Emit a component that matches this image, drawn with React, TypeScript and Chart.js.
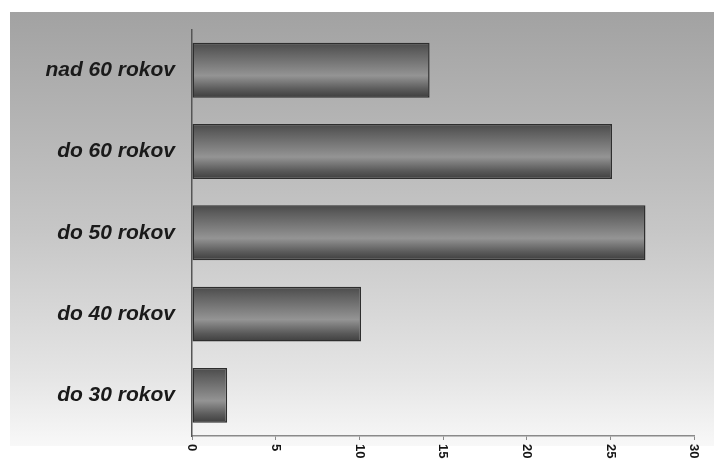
import React, { useEffect, useRef } from "react";
import { Chart, registerables } from "chart.js";

Chart.register(...registerables);

const categories = ["nad 60 rokov", "do 60 rokov", "do 50 rokov", "do 40 rokov", "do 30 rokov"];
const values = [14.2, 25.1, 27.1, 10.1, 2.1];
const xTicks = [0, 5, 10, 15, 20, 25, 30];

const BAR_PCT = 0.675;

const bgPlugin = {
  id: "bgPlugin",
  beforeDraw(chart: any) {
    const { ctx } = chart;
    ctx.save();
    ctx.fillStyle = "#ffffff";
    ctx.fillRect(0, 0, chart.width, chart.height);
    const g = ctx.createLinearGradient(0, 12, 0, 446);
    g.addColorStop(0, "#a2a2a2");
    g.addColorStop(0.5, "#c6c6c6");
    g.addColorStop(0.85, "#e6e6e6");
    g.addColorStop(1, "#f8f8f8");
    ctx.fillStyle = g;
    ctx.fillRect(10, 12, 704, 434);
    ctx.restore();
  },
  afterDraw(chart: any) {
    const { ctx } = chart;
    const sx = chart.scales.x;
    ctx.save();
    ctx.fillStyle = "#141414";
    ctx.font = "bold 13px 'Liberation Sans', Arial, sans-serif";
    ctx.textAlign = "left";
    ctx.textBaseline = "middle";
    xTicks.forEach((v) => {
      const x = sx.getPixelForValue(v);
      ctx.save();
      ctx.translate(x, 444);
      ctx.rotate(Math.PI / 2);
      ctx.fillText(String(v), 0, 0);
      ctx.restore();
    });
    ctx.restore();
  },
};

export default function App() {
  const ref = useRef<HTMLCanvasElement | null>(null);
  useEffect(() => {
    document.body.style.margin = "0";
    const canvas = ref.current!;
    const chart = new Chart(canvas, {
      type: "bar",
      data: {
        labels: categories,
        datasets: [
          {
            data: values,
            borderColor: "#2e2e2e",
            borderWidth: 1.5,
            borderSkipped: false,
            barPercentage: BAR_PCT,
            categoryPercentage: 1,
            backgroundColor: (c: any) => {
              const ch = c.chart;
              const sy = ch.scales && ch.scales.y;
              if (!sy || !ch.chartArea) return "#707070";
              const yc = sy.getPixelForValue(c.dataIndex);
              const half = (sy.height / categories.length) * BAR_PCT / 2;
              const g = ch.ctx.createLinearGradient(0, yc - half, 0, yc + half);
              g.addColorStop(0, "#4a4a4a");
              g.addColorStop(0.15, "#5e5e5e");
              g.addColorStop(0.6, "#949494");
              g.addColorStop(0.85, "#5a5a5a");
              g.addColorStop(1, "#3e3e3e");
              return g;
            },
          },
        ],
      },
      options: {
        indexAxis: "y",
        animation: false,
        responsive: true,
        maintainAspectRatio: false,
        layout: { padding: { top: 29, right: 22, left: 0, bottom: 0 } },
        plugins: { legend: { display: false }, tooltip: { enabled: false } },
        scales: {
          x: {
            min: 0,
            max: 30,
            ticks: { display: false, stepSize: 5 },
            grid: { display: true, drawOnChartArea: false, drawTicks: true, tickLength: 4, color: "#8a8a8a" },
            border: { display: true, color: "#8a8a8a", width: 1.5 },
            afterFit: (s: any) => { s.height = 38; },
          },
          y: {
            ticks: {
              color: "#1a1a1a",
              padding: 17,
              font: { family: "'Liberation Sans', Arial, sans-serif", size: 21, weight: "bold", style: "italic" },
            },
            grid: { display: false, drawTicks: false },
            border: { display: true, color: "#555555", width: 1.5 },
            afterFit: (s: any) => { s.width = 192; },
          },
        },
      },
      plugins: [bgPlugin],
    } as any);
    return () => chart.destroy();
  }, []);
  return (
    <div style={{ position: "fixed", left: 0, top: 0, width: 716, height: 474 }}>
      <canvas ref={ref} />
    </div>
  );
}
